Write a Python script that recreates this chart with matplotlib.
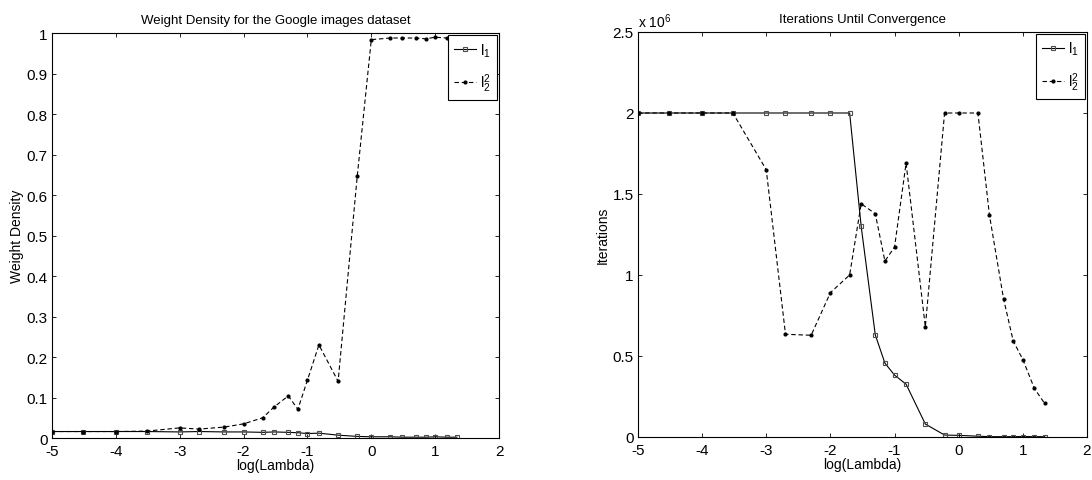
import numpy as np
import matplotlib
matplotlib.use("Agg")
import matplotlib.pyplot as plt

plt.rcParams['font.family'] = ['Liberation Sans', 'DejaVu Sans']
plt.rcParams['mathtext.fontset'] = 'custom'
plt.rcParams['mathtext.rm'] = 'Liberation Sans'
plt.rcParams['mathtext.it'] = 'Liberation Sans'
plt.rcParams['axes.unicode_minus'] = False

# log10(lambda) values shared by both panels
log_lambda = np.array([-5.0, -4.52, -4.0, -3.52, -3.0, -2.70, -2.30, -2.0, -1.70,
                       -1.52, -1.30, -1.15, -1.0, -0.82, -0.52, -0.22, 0.0, 0.30,
                       0.48, 0.70, 0.85, 1.0, 1.18, 1.34])

# weight density
dens_l1 = np.array([0.016, 0.016, 0.016, 0.016, 0.015, 0.016, 0.015, 0.015, 0.014,
                    0.015, 0.014, 0.013, 0.011, 0.012, 0.007, 0.004, 0.003, 0.003,
                    0.002, 0.002, 0.002, 0.003, 0.002, 0.002])
dens_l2 = np.array([0.016, 0.016, 0.016, 0.017, 0.025, 0.022, 0.027, 0.035, 0.050,
                    0.077, 0.104, 0.071, 0.143, 0.230, 0.140, 0.647, 0.984, 0.988,
                    0.988, 0.988, 0.986, 0.990, 0.988, 0.988])

# iterations until convergence
iter_l1 = np.array([2.0e6, 2.0e6, 2.0e6, 2.0e6, 2.0e6, 2.0e6, 2.0e6, 2.0e6, 2.0e6,
                    1.30e6, 0.63e6, 0.456e6, 0.382e6, 0.326e6, 0.08e6, 0.012e6, 0.01e6,
                    0.005e6, 0.002e6, 0.002e6, 0.002e6, 0.003e6, 0.002e6, 0.002e6])
iter_l2 = np.array([2.0e6, 2.0e6, 2.0e6, 2.0e6, 1.65e6, 0.634e6, 0.628e6, 0.891e6, 1.0e6,
                    1.44e6, 1.378e6, 1.086e6, 1.172e6, 1.69e6, 0.68e6, 2.0e6, 2.0e6,
                    2.0e6, 1.368e6, 0.852e6, 0.593e6, 0.478e6, 0.30e6, 0.207e6])

labels = [r'$\mathregular{l_1}$', r'$\mathregular{l_2^2}$']
xticks = [-5, -4, -3, -2, -1, 0, 1, 2]

fig = plt.figure(figsize=(10.92, 4.81), dpi=100)
ax1 = fig.add_axes([0.0476, 0.0873, 0.4094, 0.8417])
ax2 = fig.add_axes([0.5842, 0.0894, 0.4112, 0.8420])


def draw(ax, y1, y2, title, ylabel):
    ax.plot(log_lambda, y1, color='black', lw=0.8, marker='s', ms=3.5,
            mfc='none', mec='0.3', mew=0.8, label=labels[0])
    ax.plot(log_lambda, y2, color='black', lw=0.8, ls=(0, (4, 2.5)), marker='.',
            ms=4, label=labels[1])
    ax.set_xlim(-5, 2)
    ax.set_xticks(xticks)
    ax.set_xticklabels([str(t) for t in xticks])
    ax.set_title(title, fontsize=9.5, pad=7)
    ax.set_xlabel('log(Lambda)', fontsize=10, labelpad=0)
    ax.set_ylabel(ylabel, fontsize=10, labelpad=2)
    ax.tick_params(direction='in', top=True, right=True, labelsize=11,
                   length=3, width=0.6)
    ax.tick_params(axis='x', pad=4)
    ax.tick_params(axis='y', pad=3)
    for s in ax.spines.values():
        s.set_linewidth(0.8)
    leg = ax.legend(loc='upper right', fontsize=10.5, frameon=True, fancybox=False,
                    edgecolor='black', framealpha=1, handlelength=1.5,
                    handletextpad=0.3, labelspacing=0.9, borderaxespad=0.15,
                    borderpad=0.4)
    leg.get_frame().set_linewidth(0.8)


draw(ax1, dens_l1, dens_l2, 'Weight Density for the Google images dataset', 'Weight Density')
ax1.set_ylim(0, 1)
ax1.set_yticks(np.arange(0, 1.01, 0.1))
ax1.set_yticklabels(['0', '0.1', '0.2', '0.3', '0.4', '0.5', '0.6', '0.7', '0.8', '0.9', '1'])

draw(ax2, iter_l1, iter_l2, 'Iterations Until Convergence', 'Iterations')
ax2.set_ylim(0, 2.5e6)
ax2.set_yticks(np.arange(0, 2.51e6, 0.5e6))
ax2.set_yticklabels(['0', '0.5', '1', '1.5', '2', '2.5'])
ax2.text(0.0, 1.005, r'x 10$^{6}$', transform=ax2.transAxes, fontsize=10,
         ha='left', va='bottom')

fig.savefig('out.png', dpi=100)
